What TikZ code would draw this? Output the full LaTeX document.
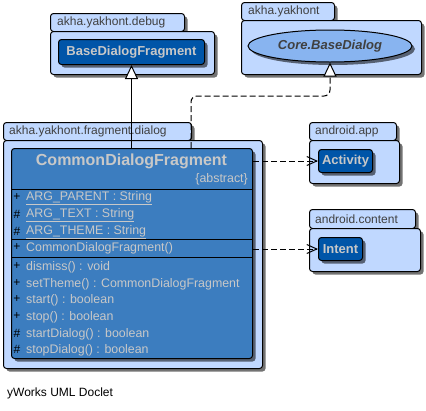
\documentclass[tikz,border=0pt]{standalone}
\usepackage{fontspec}
\setmainfont{Liberation Sans}
\usetikzlibrary{arrows.meta,shadows,shapes.geometric}
\definecolor{pkgfill}{HTML}{C0D8FF}
\definecolor{nodefill}{HTML}{0055A8}
\definecolor{classfill}{HTML}{3C7DBF}
\definecolor{ellfill}{HTML}{88B4F0}
\definecolor{txtgray}{HTML}{C8C8C8}
\definecolor{lbl}{HTML}{404040}
\begin{document}
\begin{tikzpicture}[x=1pt,y=-1pt,
  shad/.style={drop shadow={shadow xshift=3pt,shadow yshift=-3pt,opacity=.55,fill=black}},
  pkg/.style={draw=black,line width=1pt,fill=pkgfill,rounded corners=3pt,shad,anchor=north west,inner sep=0pt},
  pkglabel/.style={anchor=west,text=lbl,font=\fontsize{12}{14}\selectfont,inner sep=0pt},
  cnode/.style={draw=black,line width=1pt,fill=nodefill,rounded corners=3pt,shad,text=txtgray,font=\bfseries\fontsize{13}{15}\selectfont,inner sep=0pt,anchor=north west},
  member/.style={anchor=west,text=txtgray,font=\fontsize{12.4}{14}\selectfont,inner sep=0pt},
  vismark/.style={anchor=center,text=black,font=\fontsize{12}{14}\selectfont,inner sep=0pt},
  realize/.style={line width=1pt,dash pattern=on 6pt off 3pt,rounded corners=6pt,-{Triangle[length=14pt,width=13pt,fill=white]}},
  gen/.style={line width=1pt,-{Triangle[length=14pt,width=13pt,fill=white]}},
  dep/.style={line width=1pt,dash pattern=on 6pt off 3pt,-{Straight Barb[length=10pt,width=9pt]}}
]
\useasboundingbox[fill=white] (0,0) rectangle (426,410);

% package akha.yakhont.debug
\node[pkg,minimum width=134pt,minimum height=18pt] (dbgtab) at (50,13) {};
\node[pkg,minimum width=164pt,minimum height=43pt] (dbgbody) at (50,31) {};
\node[pkglabel] (dbglbl) at (57,22) {akha.yakhont.debug};
\node[cnode,minimum width=146pt,minimum height=25pt] (bdf) at (58,39) {BaseDialogFragment};

% package akha.yakhont
\node[pkg,minimum width=93pt,minimum height=18pt] (ytab) at (241,2) {};
\node[pkg,minimum width=180pt,minimum height=54pt] (ybody) at (241,20) {};
\node[pkglabel] (ylbl) at (248,11) {akha.yakhont};
\node[ellipse,draw=black,line width=1pt,fill=ellfill,shad,minimum width=164pt,minimum height=32pt,inner sep=0pt,text=lbl,font=\bfseries\itshape\fontsize{13}{15}\selectfont] (core) at (330,46) {Core.BaseDialog};

% package akha.yakhont.fragment.dialog
\node[pkg,minimum width=188pt,minimum height=18pt] (ftab) at (3,122) {};
\node[pkg,minimum width=259pt,minimum height=228pt] (fbody) at (3,140) {};
\node[pkglabel] (flbl) at (9,131) {akha.yakhont.fragment.dialog};

% class
\node[draw=black,line width=1pt,fill=classfill,rounded corners=3pt,shad,anchor=north west,inner sep=0pt,minimum width=241pt,minimum height=210pt] (cls) at (11,148) {};
\coordinate (c1) at (11,189);
\coordinate (c2) at (11,239);
\coordinate (c3) at (11,257);
\draw[line width=1pt] (c1) -- (c1 -| cls.east);
\draw[line width=1pt] (c2) -- (c2 -| cls.east);
\draw[line width=1pt] (c3) -- (c3 -| cls.east);
\node[anchor=center,text=txtgray,font=\bfseries\fontsize{16}{18}\selectfont,inner sep=0pt] (cname) at (131.5,161) {CommonDialogFragment};
\node[anchor=east,text=txtgray,font=\fontsize{12.4}{14}\selectfont,inner sep=0pt] (cabs) at (248,179) {\{abstract\}};

\node[vismark] (m1) at (17,197) {+};
\node[member] (a1) at (26,198) {\underline{ARG\_PARENT : String}};
\node[vismark] (m2) at (17,214) {\#};
\node[member] (a2) at (26,215) {\underline{ARG\_TEXT : String}};
\node[vismark] (m3) at (17,231) {\#};
\node[member] (a3) at (26,232) {\underline{ARG\_THEME : String}};

\node[vismark] (m4) at (17,247) {+};
\node[member] (k1) at (26,248) {CommonDialogFragment()};

\node[vismark] (m5) at (17,266) {+};
\node[member] (o1) at (26,267) {dismiss() : void};
\node[vismark] (m6) at (17,283) {+};
\node[member] (o2) at (26,284) {setTheme() : CommonDialogFragment};
\node[vismark] (m7) at (17,299) {+};
\node[member] (o3) at (26,300) {start() : boolean};
\node[vismark] (m8) at (17,316) {+};
\node[member] (o4) at (26,317) {stop() : boolean};
\node[vismark] (m9) at (17,333) {\#};
\node[member] (o5) at (26,334) {startDialog() : boolean};
\node[vismark] (m10) at (17,349) {\#};
\node[member] (o6) at (26,350) {stopDialog() : boolean};

% package android.app
\node[pkg,minimum width=87pt,minimum height=18pt] (atab) at (309,122) {};
\node[pkg,minimum width=90pt,minimum height=43pt] (abody) at (309,140) {};
\node[pkglabel] (albl) at (315,131) {android.app};
\node[cnode,minimum width=54pt,minimum height=23pt] (act) at (318,149) {Activity};

% package android.content
\node[pkg,minimum width=106pt,minimum height=19pt] (ctab) at (309,209) {};
\node[pkg,minimum width=111pt,minimum height=43pt] (cbody) at (309,228) {};
\node[pkglabel] (clbl) at (315,219) {android.content};
\node[cnode,minimum width=44pt,minimum height=23pt] (int) at (318,237) {Intent};

% connectors
\draw[gen] (cls.north -| bdf.south) -- (bdf.south);
\coordinate (r1) at (191,96);
\draw[realize] (cls.north -| r1) -- (r1) -- (r1 -| core.south) -- (core.south);
\draw[dep] (cls.east |- act.west) -- (act.west);
\draw[dep] (cls.east |- int.west) -- (int.west);

\node[anchor=west,text=black,font=\fontsize{12}{14}\selectfont,inner sep=0pt] (footer) at (7,393) {yWorks UML Doclet};
\end{tikzpicture}
\end{document}
